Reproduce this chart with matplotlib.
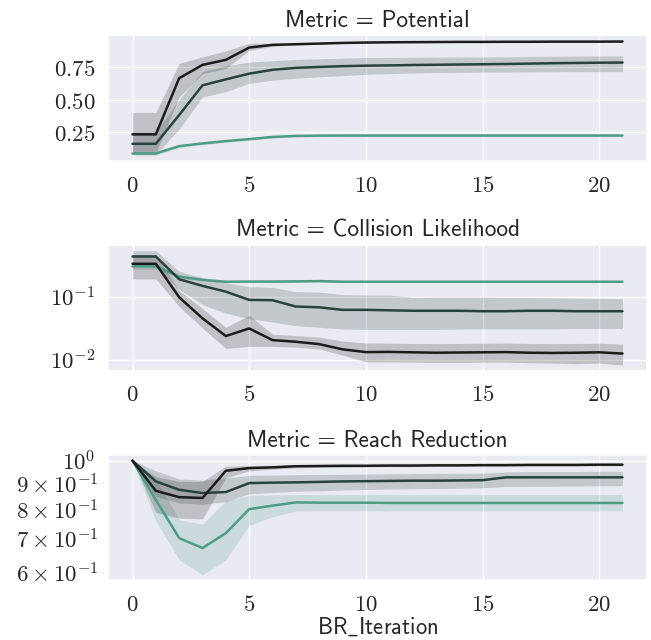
import numpy as np
import matplotlib
matplotlib.use("Agg")
import matplotlib.pyplot as plt
import matplotlib.ticker as mticker
import seaborn as sns

# ---------------- data ----------------
iterations = list(range(22))
metrics = ["Potential", "Collision Likelihood", "Reach Reduction"]

# Potential
pot_black = [0.23, 0.23, 0.665, 0.768, 0.807, 0.902, 0.923, 0.928, 0.933, 0.938, 0.941, 0.943,
             0.944, 0.945, 0.946, 0.946, 0.947, 0.947, 0.948, 0.948, 0.948, 0.949]
pot_black_lo = [0.085, 0.085, 0.52, 0.70, 0.74, 0.88, 0.912, 0.922, 0.928, 0.934, 0.937, 0.939,
                0.940, 0.941, 0.942, 0.942, 0.943, 0.943, 0.944, 0.944, 0.944, 0.945]
pot_black_hi = [0.40, 0.40, 0.78, 0.83, 0.876, 0.935, 0.935, 0.937, 0.939, 0.942, 0.945, 0.947,
                0.948, 0.949, 0.950, 0.950, 0.951, 0.951, 0.952, 0.952, 0.953, 0.955]
pot_green = [0.157, 0.157, 0.38, 0.61, 0.656, 0.70, 0.73, 0.745, 0.752, 0.758, 0.762, 0.764,
             0.767, 0.769, 0.771, 0.773, 0.775, 0.778, 0.781, 0.783, 0.785, 0.786]
pot_green_lo = [0.075, 0.075, 0.27, 0.52, 0.56, 0.625, 0.65, 0.665, 0.675, 0.685, 0.695, 0.70,
                0.705, 0.708, 0.71, 0.712, 0.713, 0.714, 0.715, 0.716, 0.716, 0.716]
pot_green_hi = [0.25, 0.25, 0.50, 0.716, 0.76, 0.79, 0.80, 0.81, 0.815, 0.82, 0.825, 0.826,
                0.827, 0.828, 0.829, 0.830, 0.831, 0.833, 0.835, 0.836, 0.837, 0.838]
pot_teal = [0.082, 0.082, 0.139, 0.16, 0.178, 0.193, 0.21, 0.218, 0.220, 0.221, 0.221, 0.221,
            0.221, 0.221, 0.221, 0.221, 0.221, 0.221, 0.221, 0.221, 0.221, 0.221]
pot_teal_lo = [0.068, 0.068, 0.128, 0.150, 0.168, 0.184, 0.201, 0.210, 0.212, 0.213, 0.213, 0.213,
               0.213, 0.213, 0.213, 0.213, 0.213, 0.213, 0.213, 0.213, 0.213, 0.213]
pot_teal_hi = [0.096, 0.096, 0.150, 0.170, 0.188, 0.202, 0.219, 0.226, 0.228, 0.229, 0.229, 0.229,
               0.229, 0.229, 0.229, 0.229, 0.229, 0.229, 0.229, 0.229, 0.229, 0.229]

# Collision Likelihood
col_black = [0.33, 0.33, 0.098, 0.0456, 0.024, 0.0316, 0.0207, 0.0195, 0.0179, 0.0148, 0.0134, 0.0135,
             0.0133, 0.0131, 0.0132, 0.0133, 0.0134, 0.0131, 0.0130, 0.0131, 0.0133, 0.0127]
col_black_lo = [0.19, 0.19, 0.07, 0.032, 0.0153, 0.0165, 0.0165, 0.016, 0.015, 0.012, 0.0094, 0.0094,
                0.0093, 0.0092, 0.0092, 0.0093, 0.0093, 0.0091, 0.0090, 0.0088, 0.0090, 0.0084]
col_black_hi = [0.46, 0.46, 0.125, 0.065, 0.033, 0.051, 0.0257, 0.0245, 0.023, 0.020, 0.0187, 0.0185,
                0.0183, 0.0182, 0.0183, 0.0185, 0.0186, 0.0183, 0.0182, 0.0183, 0.0185, 0.0179]
col_green = [0.43, 0.43, 0.188, 0.148, 0.12, 0.089, 0.088, 0.070, 0.068, 0.062, 0.062, 0.061,
             0.060, 0.060, 0.060, 0.059, 0.059, 0.060, 0.060, 0.059, 0.059, 0.059]
col_green_lo = [0.30, 0.30, 0.13, 0.075, 0.055, 0.045, 0.040, 0.035, 0.033, 0.031, 0.0305, 0.0305,
                0.0305, 0.0305, 0.031, 0.031, 0.031, 0.031, 0.031, 0.0315, 0.0315, 0.0316]
col_green_hi = [0.53, 0.53, 0.25, 0.20, 0.165, 0.144, 0.140, 0.120, 0.118, 0.108, 0.106, 0.106,
                0.098, 0.099, 0.099, 0.099, 0.098, 0.097, 0.096, 0.095, 0.094, 0.093]
col_teal = [0.30, 0.30, 0.207, 0.184, 0.172, 0.173, 0.173, 0.174, 0.176, 0.172, 0.172, 0.172,
            0.172, 0.172, 0.172, 0.172, 0.172, 0.172, 0.172, 0.172, 0.172, 0.172]
col_teal_lo = [0.27, 0.27, 0.195, 0.176, 0.166, 0.167, 0.168, 0.169, 0.170, 0.167, 0.167, 0.167,
               0.167, 0.167, 0.167, 0.167, 0.167, 0.167, 0.167, 0.167, 0.167, 0.167]
col_teal_hi = [0.33, 0.33, 0.22, 0.192, 0.178, 0.179, 0.178, 0.179, 0.182, 0.177, 0.177, 0.177,
               0.177, 0.177, 0.177, 0.177, 0.177, 0.177, 0.177, 0.177, 0.177, 0.177]

# Reach Reduction
rr_black = [1.0, 0.872, 0.847, 0.844, 0.955, 0.967, 0.970, 0.975, 0.976, 0.977, 0.977, 0.978,
            0.978, 0.979, 0.979, 0.980, 0.980, 0.981, 0.981, 0.981, 0.982, 0.982]
rr_black_lo = [1.0, 0.79, 0.77, 0.767, 0.925, 0.955, 0.962, 0.968, 0.970, 0.971, 0.972, 0.973,
               0.973, 0.974, 0.974, 0.975, 0.975, 0.976, 0.976, 0.976, 0.977, 0.977]
rr_black_hi = [1.0, 0.93, 0.91, 0.91, 0.975, 0.978, 0.979, 0.982, 0.983, 0.983, 0.984, 0.984,
               0.985, 0.985, 0.985, 0.986, 0.986, 0.986, 0.987, 0.987, 0.987, 0.987]
rr_green = [1.0, 0.91, 0.876, 0.863, 0.867, 0.903, 0.905, 0.906, 0.908, 0.910, 0.911, 0.912,
            0.913, 0.913, 0.914, 0.915, 0.927, 0.927, 0.927, 0.927, 0.927, 0.927]
rr_green_lo = [1.0, 0.85, 0.825, 0.82, 0.83, 0.86, 0.865, 0.870, 0.872, 0.875, 0.877, 0.879,
               0.880, 0.881, 0.882, 0.884, 0.889, 0.890, 0.890, 0.891, 0.892, 0.892]
rr_green_hi = [1.0, 0.955, 0.92, 0.915, 0.925, 0.935, 0.937, 0.938, 0.939, 0.940, 0.941, 0.942,
               0.943, 0.944, 0.944, 0.945, 0.950, 0.951, 0.952, 0.952, 0.953, 0.953]
rr_teal = [1.0, 0.837, 0.703, 0.672, 0.719, 0.802, 0.815, 0.827, 0.826, 0.826, 0.826, 0.825,
           0.825, 0.825, 0.825, 0.825, 0.825, 0.825, 0.825, 0.825, 0.825, 0.825]
rr_teal_lo = [1.0, 0.76, 0.637, 0.595, 0.637, 0.745, 0.775, 0.795, 0.796, 0.796, 0.796, 0.796,
              0.796, 0.796, 0.796, 0.796, 0.796, 0.796, 0.796, 0.796, 0.796, 0.796]
rr_teal_hi = [1.0, 0.92, 0.764, 0.749, 0.832, 0.854, 0.856, 0.857, 0.857, 0.857, 0.857, 0.857,
              0.857, 0.857, 0.857, 0.857, 0.857, 0.857, 0.857, 0.857, 0.857, 0.857]

series_colors = ["#1b1b1b", "#2a423c", "#4f9c85"]

panels = [
    [(pot_black, pot_black_lo, pot_black_hi), (pot_green, pot_green_lo, pot_green_hi),
     (pot_teal, pot_teal_lo, pot_teal_hi)],
    [(col_black, col_black_lo, col_black_hi), (col_green, col_green_lo, col_green_hi),
     (col_teal, col_teal_lo, col_teal_hi)],
    [(rr_black, rr_black_lo, rr_black_hi), (rr_green, rr_green_lo, rr_green_hi),
     (rr_teal, rr_teal_lo, rr_teal_hi)],
]
log_panels = [False, True, True]

# ---------------- style ----------------
sns.set_theme(style="darkgrid")
plt.rcParams["mathtext.fontset"] = "cm"
plt.rcParams["font.family"] = ["DejaVu Sans"]


def lin_fmt(v, pos):
    return r"$%g$" % v if v != 0 else r"$0$"


def lin_fmt2(v, pos):
    return r"$%.2f$" % v


def log_fmt(v, pos):
    if v <= 0:
        return ""
    e = int(np.floor(np.log10(v) + 1e-9))
    m = int(round(v / 10 ** e))
    if m == 1:
        return r"$10^{%d}$" % e
    return r"$%d\times10^{%d}$" % (m, e)


fig = plt.figure(figsize=(6.51, 6.40), dpi=100)
positions = [
    [0.1659, 0.7484, 0.828, 0.1969],
    [0.1659, 0.4208, 0.828, 0.1964],
    [0.1659, 0.0930, 0.828, 0.1961],
]

for i, (metric, pos) in enumerate(zip(metrics, positions)):
    ax = fig.add_axes(pos)
    for (mean, lo, hi), c in reversed(list(zip(panels[i], series_colors))):
        ax.fill_between(iterations, lo, hi, color=c, alpha=0.2, linewidth=0)
        ax.plot(iterations, mean, color=c, linewidth=1.8)
    ax.set_xticks([0, 5, 10, 15, 20])
    ax.xaxis.set_major_formatter(mticker.FuncFormatter(lin_fmt))
    if log_panels[i]:
        ax.set_yscale("log")
        ax.yaxis.set_major_formatter(mticker.FuncFormatter(log_fmt))
        if i == 2:
            ax.yaxis.set_minor_formatter(mticker.FuncFormatter(log_fmt))
        else:
            ax.yaxis.set_minor_formatter(mticker.NullFormatter())
    else:
        ax.yaxis.set_major_formatter(mticker.FuncFormatter(lin_fmt2))
    ax.tick_params(axis="both", which="both", labelsize=16.5, pad=3)
    ax.set_title(f"Metric = {metric}", family="cmss10", fontsize=16.8)
    if i == 2:
        ax.set_xlabel(r"$\mathsf{BR\_Iteration}$", fontsize=16.3, labelpad=0)

fig.savefig("out.png", dpi=100)
